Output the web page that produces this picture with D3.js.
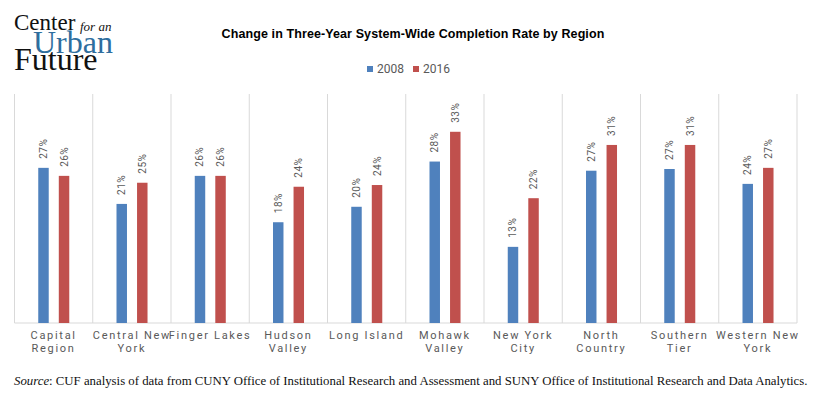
<!DOCTYPE html>
<html>
<head>
<meta charset="utf-8">
<script src="https://cdn.jsdelivr.net/npm/d3@7"></script>
<style>
  body { margin: 0; background: #fff; }
  svg { display: block; }
  .cat { font-family: Roboto, sans-serif; font-size: 11px; fill: #595959; letter-spacing: 1.7px; }
  .val { font-family: Roboto, sans-serif; font-size: 10px; fill: #595959; letter-spacing: 0.5px; }
</style>
</head>
<body>
<div id="chart"></div>
<script>
// "\n" marks where the axis label breaks, as in the source chart
const regions = ["Capital\nRegion", "Central New\nYork", "Finger Lakes", "Hudson\nValley", "Long Island",
                 "Mohawk\nValley", "New York\nCity", "North\nCountry", "Southern\nTier", "Western New\nYork"];
const years = ["2008", "2016"];
const rate2008 = [27.1, 20.8, 25.7, 17.6, 20.3, 28.2, 13.3, 26.6, 26.9, 24.3];
const rate2016 = [25.7, 24.5, 25.7, 23.8, 24.1, 33.4, 21.8, 31.1, 31.1, 27.1];
const colors = ["#4f81bd", "#c0504d"];

const width = 822, height = 396;
const plot = { left: 14.5, right: 797, top: 94, bottom: 323 };

const svg = d3.select("#chart").append("svg")
              .attr("width", width)
              .attr("height", height);

// logo
const logo = svg.append("g").attr("font-family", "'Liberation Serif', 'DejaVu Serif', serif");
logo.append("text").attr("x", 14).attr("y", 30).attr("font-size", 23).attr("fill", "#111").text("Center");
logo.append("text").attr("x", 80).attr("y", 31).attr("font-size", 13).attr("font-style", "italic").attr("fill", "#111").text("for an");
logo.append("text").attr("x", 33).attr("y", 53).attr("font-size", 32).attr("fill", "#2e6e9e").text("Urban");
logo.append("text").attr("x", 14).attr("y", 70).attr("font-size", 32).attr("fill", "#111").text("Future");

// title
svg.append("text")
   .attr("x", 413).attr("y", 38)
   .attr("text-anchor", "middle")
   .attr("font-family", "'Liberation Sans', Arial, sans-serif")
   .attr("font-weight", "bold")
   .attr("font-size", 12.5)
   .attr("letter-spacing", 0.1)
   .attr("fill", "#000")
   .text("Change in Three-Year System-Wide Completion Rate by Region");

// legend
const legendX = [367, 413];
years.forEach((yr, i) => {
  svg.append("rect").attr("x", legendX[i]).attr("y", 66).attr("width", 6).attr("height", 6).attr("fill", colors[i]);
  svg.append("text").attr("x", legendX[i] + 10).attr("y", 73)
     .attr("font-family", "Roboto, sans-serif").attr("font-size", 12).attr("fill", "#595959")
     .text(yr);
});

const x0 = d3.scaleBand().domain(regions).range([plot.left, plot.right]);
const bw = x0.bandwidth();
const x1 = d3.scaleBand().domain(years).range([bw * 0.3035, bw * 0.70]).paddingInner(0.49);
const y = d3.scaleLinear().domain([0, 40]).range([plot.bottom, plot.top]);

// vertical grid lines at category boundaries
const bounds = regions.map(r => x0(r)).concat([plot.right]);
svg.append("g").selectAll("line").data(bounds).enter().append("line")
   .attr("x1", d => d).attr("x2", d => d)
   .attr("y1", plot.top).attr("y2", plot.bottom)
   .attr("stroke", "#d9d9d9").attr("stroke-width", 1);

svg.append("line")
   .attr("x1", plot.left).attr("x2", plot.right)
   .attr("y1", plot.bottom).attr("y2", plot.bottom)
   .attr("stroke", "#d9d9d9").attr("stroke-width", 1);

const rows = regions.map((r, i) => ({ region: r, values: [rate2008[i], rate2016[i]] }));

const groups = svg.append("g").selectAll("g").data(rows).enter().append("g")
                  .attr("transform", d => `translate(${x0(d.region)},0)`);

groups.selectAll("rect")
      .data(d => d.values.map((v, i) => ({ year: years[i], v: v, i: i })))
      .enter().append("rect")
        .attr("x", d => x1(d.year))
        .attr("width", x1.bandwidth())
        .attr("y", d => y(d.v))
        .attr("height", d => y(0) - y(d.v))
        .attr("fill", d => colors[d.i]);

groups.selectAll("text.val")
      .data(d => d.values.map((v, i) => ({ year: years[i], v: v })))
      .enter().append("text")
        .attr("class", "val")
        .attr("transform", d => `translate(${x1(d.year) + x1.bandwidth() / 2 + 3.5},${y(d.v) - 9}) rotate(-90)`)
        .text(d => Math.round(d.v) + "%");

// category labels
svg.append("g").selectAll("text").data(regions).enter().append("text")
   .attr("class", "cat")
   .attr("text-anchor", "middle")
   .attr("y", 339)
   .each(function(d) {
     const cx = x0(d) + bw / 2;
     d3.select(this).selectAll("tspan").data(d.split("\n")).enter().append("tspan")
       .attr("x", cx)
       .attr("dy", (ln, i) => i === 0 ? 0 : 12.5)
       .text(ln => ln);
   });

// source note
const src = svg.append("text")
               .attr("x", 14).attr("y", 385)
               .attr("font-family", "'Liberation Serif', 'DejaVu Serif', serif")
               .attr("font-size", 12.8)
               .attr("fill", "#111");
src.append("tspan").attr("font-style", "italic").text("Source");
src.append("tspan").text(": CUF analysis of data from CUNY Office of Institutional Research and Assessment and SUNY Office of Institutional Research and Data Analytics.");
</script>
</body>
</html>
